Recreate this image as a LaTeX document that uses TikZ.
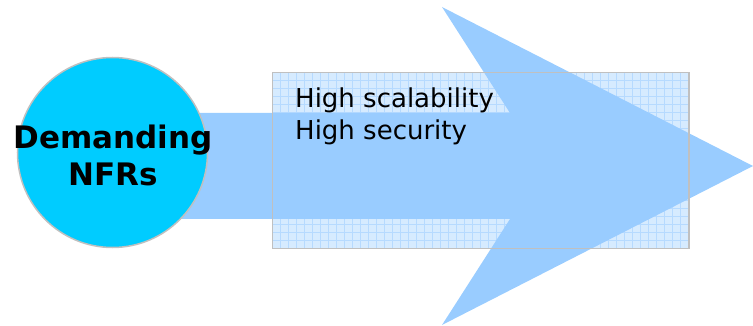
\documentclass[tikz,border=0pt]{standalone}
\usepackage{fontspec}
\setmainfont{DejaVu Sans}
\definecolor{arrowblue}{HTML}{99CCFF}
\definecolor{circlecyan}{HTML}{00CCFF}
\definecolor{edgegray}{HTML}{C0C0C0}
\definecolor{gridfill}{HTML}{D6EBFF}
\definecolor{gridline}{HTML}{B6DAFF}
\tikzset{
  bigarrow/.style={fill=arrowblue, draw=none},
  hub/.style={circle, fill=circlecyan, draw=edgegray, line width=1.5pt,
    minimum size=190pt, inner sep=0pt},
  hubtext/.style={align=center, inner sep=0pt,
    font=\bfseries\fontsize{31}{37}\selectfont},
  item/.style={anchor=base west, inner sep=0pt, font=\fontsize{26}{30}\selectfont},
}
\begin{document}
\begin{tikzpicture}[x=1pt, y=-1pt]
  \useasboundingbox (0,0) rectangle (753,326);
  % gridded panel behind the arrow
  \coordinate (panelNW) at (272.5,72.5);
  \coordinate (panelSE) at (689,248.5);
  \begin{scope}
    \clip (panelNW) rectangle (panelSE);
    \fill[gridfill] (panelNW) rectangle (panelSE);
    \draw[gridline, line width=0.8pt, step=8pt] (264,64) grid (700,256);
  \end{scope}
  % block arrow
  \path[bigarrow] (150,113) -- (510,113) -- (442,7) -- (753,166)
    -- (442,325) -- (510,219) -- (150,219) -- cycle;
  % panel outline on top
  \draw[edgegray, line width=1.8pt] (panelNW) rectangle (panelSE);
  % circle with caption
  \node[hub] (nfr) at (112.5,152.5) {};
  \node[hubtext] (cap) at (113,155) {Demanding\\NFRs};
  % requirement list
  \node[item] (l1) at (295,108) {High scalability};
  \node[item] (l2) at (295,140) {High security};
\end{tikzpicture}
\end{document}
